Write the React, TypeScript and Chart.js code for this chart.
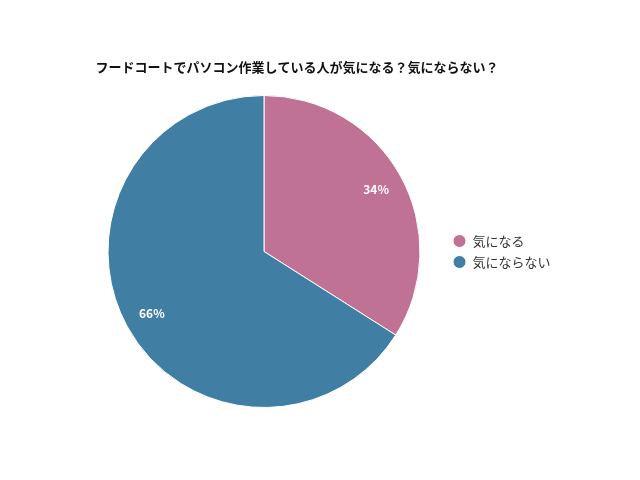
import React, { useEffect, useRef } from "react";
import { Chart, registerables } from "chart.js";

Chart.register(...registerables);

const titleText = "フードコートでパソコン作業している人が気になる？気にならない？";
const categories = ["気になる", "気にならない"];
const values = [34, 66];
const colors = ["#C07294", "#417EA4"];

const FONT = "'Noto Sans CJK JP', 'Noto Sans', sans-serif";

const titlePlugin = {
  id: "customTitle",
  afterDraw(chart: any) {
    const ctx = chart.ctx;
    ctx.save();
    ctx.fillStyle = "#111111";
    ctx.font = `bold 13px ${FONT}`;
    ctx.textAlign = "center";
    ctx.textBaseline = "middle";
    ctx.fillText(titleText, 297, 67);
    ctx.restore();
  },
};

const labelPlugin = {
  id: "sliceLabels",
  afterDatasetsDraw(chart: any) {
    const ctx = chart.ctx;
    const meta = chart.getDatasetMeta(0);
    const total = values.reduce((a, b) => a + b, 0);
    ctx.save();
    ctx.fillStyle = "#ffffff";
    ctx.font = `bold 12px ${FONT}`;
    ctx.textAlign = "center";
    ctx.textBaseline = "middle";
    meta.data.forEach((arc: any, i: number) => {
      const { x, y, startAngle, endAngle, outerRadius } = arc.getProps(
        ["x", "y", "startAngle", "endAngle", "outerRadius"],
        true
      );
      const mid = (startAngle + endAngle) / 2;
      const r = outerRadius * 0.82;
      const pct = Math.round((values[i] / total) * 100);
      ctx.fillText(`${pct}%`, x + Math.cos(mid) * r, y + Math.sin(mid) * r);
    });
    ctx.restore();
  },
};

export default function App() {
  const ref = useRef<HTMLCanvasElement | null>(null);
  useEffect(() => {
    if (!ref.current) return;
    const chart = new Chart(ref.current, {
      type: "pie",
      data: {
        labels: categories,
        datasets: [
          {
            data: values,
            backgroundColor: colors,
            borderColor: "#ffffff",
            borderWidth: 1,
          },
        ],
      },
      options: {
        responsive: false,
        animation: false,
        layout: { padding: { left: 83, right: 79.5, top: 95, bottom: 72 } },
        plugins: {
          title: { display: false },
          legend: {
            position: "right",
            fullSize: false,
            labels: {
              usePointStyle: true,
              pointStyle: "circle",
              pointStyleWidth: 13,
              boxWidth: 13,
              boxHeight: 9.2,
              padding: 8,
              color: "#333333",
              font: { family: FONT, size: 13 },
            },
          },
          tooltip: { enabled: false },
        },
      },
      plugins: [labelPlugin, titlePlugin],
    } as any);
    return () => chart.destroy();
  }, []);
  return (
    <div style={{ position: "absolute", left: 0, top: 0, width: 640, height: 480, background: "#ffffff" }}>
      <canvas ref={ref} width={640} height={480} />
    </div>
  );
}
